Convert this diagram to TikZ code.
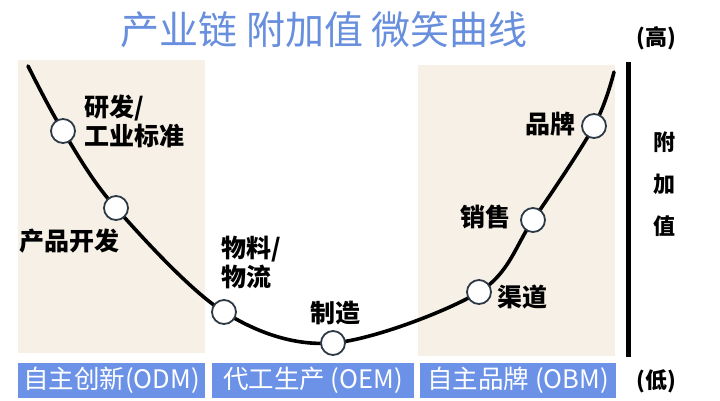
\documentclass[tikz,border=0pt]{standalone}
\usepackage{fontspec}
\setmainfont{Noto Sans CJK SC}
\definecolor{titleblue}{RGB}{104,143,222}
\definecolor{boxblue}{RGB}{108,146,232}
\definecolor{beige}{RGB}{247,240,230}
\definecolor{ringc}{RGB}{45,58,70}
\tikzset{
  panel/.style={fill=beige,draw=none},
  bbox/.style={fill=boxblue,draw=none,text=white,font=\fontsize{25.5}{28}\selectfont},
  dot/.style={circle,fill=white,draw=ringc,line width=1.8pt,minimum size=24pt,inner sep=0pt},
  lbl/.style={font=\fontsize{25}{29}\selectfont\bfseries,align=left,inner sep=0pt,text=black},
  side/.style={font=\fontsize{22}{26}\selectfont\bfseries,inner sep=0pt,text=black},
}
\begin{document}
\begin{tikzpicture}[x=1pt,y=-1pt]
\useasboundingbox[fill=white] (0,0) rectangle (720,400);
% panels
\fill[panel] (18,60) rectangle (205,353);
\fill[panel] (418,65) rectangle (615,356);
% title
\node[font=\fontsize{39}{44}\selectfont,text=titleblue,inner sep=0pt] (title) at (324,30) {产业链 附加值 微笑曲线};
% axis
\node[side] (high) at (656,38) {(高)};
\node[side] (low) at (656,381) {(低)};
\coordinate (atop) at (628.5,62);
\coordinate (abot) at (628.5,357);
\draw[line width=5pt] (atop) -- (abot);
\node[side] (v1) at (664,142) {附};
\node[side] (v2) at (664,184) {加};
\node[side] (v3) at (664,226) {值};
% curve
\coordinate (c0) at (28,66);
\coordinate (p1) at (63,131);
\coordinate (p2) at (116,208);
\coordinate (p3) at (224,312);
\coordinate (p4) at (333,343);
\coordinate (p5) at (479,292);
\coordinate (p6) at (533,220);
\coordinate (p7) at (594,126);
\coordinate (c8) at (614,72);
\draw[line width=3.6pt,line cap=round] plot[smooth,tension=0.55] coordinates {(c0) (p1) (p2) (p3) (p4) (p5) (p6) (p7) (c8)};
\node[dot] (d1) at (p1) {};
\node[dot] (d2) at (p2) {};
\node[dot] (d3) at (p3) {};
\node[dot] (d4) at (p4) {};
\node[dot] (d5) at (p5) {};
\node[dot] (d6) at (p6) {};
\node[dot] (d7) at (p7) {};
% labels
\node[lbl,anchor=west] (l1) at (84,121) {研发/\\工业标准};
\node[lbl,anchor=west] (l2) at (19,241) {产品开发};
\node[lbl,anchor=west] (l3) at (221,262) {物料/\\物流};
\node[lbl] (l4) at (335,313) {制造};
\node[lbl,anchor=west] (l5) at (497,297) {渠道};
\node[lbl,anchor=east] (l6) at (511,217) {销售};
\node[lbl,anchor=east] (l7) at (576,124) {品牌};
% bottom boxes
\node[bbox,minimum width=187pt,minimum height=35pt,inner sep=0pt] (b1) at (111.5,380) {自主创新(ODM)};
\node[bbox,minimum width=202pt,minimum height=35pt,inner sep=0pt] (b2) at (313,380) {代工生产 (OEM)};
\node[bbox,minimum width=196pt,minimum height=35pt,inner sep=0pt] (b3) at (518,380) {自主品牌 (OBM)};
\end{tikzpicture}
\end{document}
